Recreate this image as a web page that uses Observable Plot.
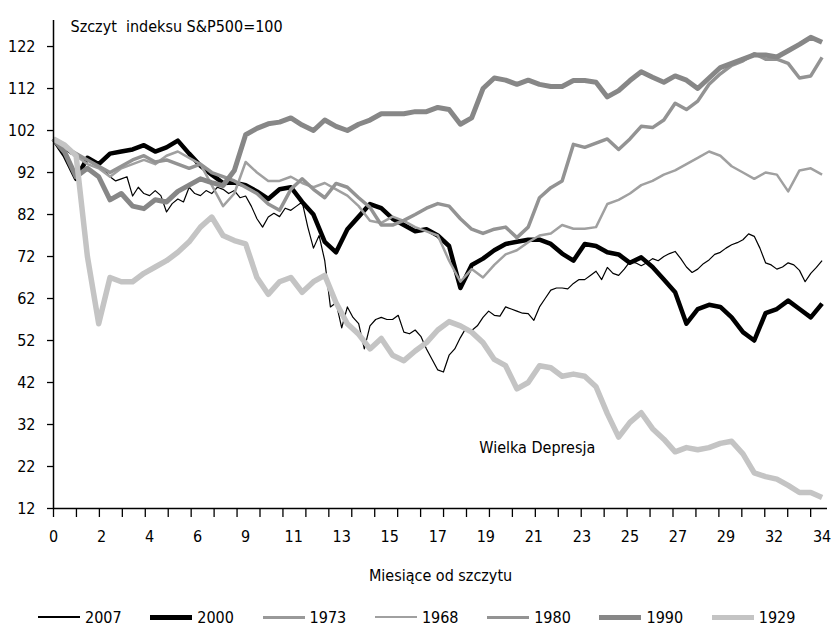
<!DOCTYPE html>
<html><head><meta charset="utf-8">
<script src="https://cdn.jsdelivr.net/npm/d3@7"></script>
<script src="https://cdn.jsdelivr.net/npm/@observablehq/plot@0.6"></script>
<style>
body{margin:0;background:#fff;}
#wrap{width:834px;height:634px;position:relative;font-family:"Liberation Sans Narrow","Arial Narrow","DejaVu Sans Condensed",sans-serif;}
#legend{height:34px;display:flex;align-items:center;padding-left:38px;box-sizing:border-box;font-size:16px;color:#000;}
.item{display:flex;align-items:center;width:112.3px;flex:none;}
.sw{width:42px;margin-right:5px;}
</style></head>
<body><div id="wrap"><div id="chart"></div><div id="legend"></div></div>
<script>
const years = ["2007","2000","1973","1968","1980","1990","1929"];
// months between successive readings, per series
const monthStep = {"2007": 0.25, "2000": 0.5, "1973": 0.5, "1968": 0.5, "1980": 0.5, "1990": 0.5, "1929": 0.5};
const s2007 = [100,98.5,97.5,96.5,96,95.5,95,94,93.6,92.5,
 91,90,90.5,91,86.4,88.5,87,86.5,87.7,86.5,
 82.6,84.6,85.7,85,88.5,87,86.5,87.7,87,88.5,
 88,87,87.7,86,86.4,84,81,79,81.4,82.3,
 81.5,83.5,83,84,85,79,74,77,71,60,
 61,55,60,57.5,56,50,55.5,57,57.5,57,
 57,58,54,53.6,54.5,53,50,47.5,45,44.5,
 48.5,50,52.7,55,54.4,55.5,57.5,59,58,57.8,
 60,59.5,59,58.5,58.4,56.8,60,62,64,64.5,
 64.5,64.3,65.6,66.5,66.5,67.5,68.5,66.5,69.4,68,
 67.5,69,70.8,70.5,69.8,70.5,71.5,71,72,72.7,
 73.2,71.5,69.5,68.2,69,70.3,71.2,72.5,73,74,
 74.8,75.3,76,77.4,76.8,74,70.5,70,69,69.5,
 70.5,70,68.7,66,68,69.4,71];
const s2000 = [100,96,90.5,95.5,94,96.5,97,97.5,98.5,97,
 98,99.6,96.5,93.6,91.5,89.5,89.6,89,87.5,85.7,
 88,88.5,85,82,75.5,73,78.5,81.5,84.5,83.5,
 81,79.5,78,78.5,77,74.5,64.5,70,71.5,73.5,
 75,75.5,76,76,75,72.7,71,75,74.5,73,
 72.5,70.5,71.8,69.5,66.5,63.5,56,59.5,60.5,60,
 57.5,54,52,58.5,59.5,61.5,59.5,57.5,60.8];
const s1973 = [];
const s1968 = [100,98,96,94,93,91,93,94,95,94,
 96,97,95.5,94,89,84,87,94.5,92,90,
 90,91,89.5,88.5,89.5,88,86.5,84,80.5,80,
 81.5,80.5,79,78,77,71,66,69,67,70,
 72.5,73.5,75.4,77,77.5,79.5,78.6,78.6,79,84.5,
 85.5,87,89,90,91.5,92.5,94,95.5,97,96,
 93.5,92,90.5,92,91.5,87.5,92.5,93,91.5];
const s1980 = [100,98,96.5,95,93.5,92,93.5,95,96,94.5,
 95,94,93,94,92,91,90,88.5,87,84.5,
 83,88,90.5,88,86,89.4,88.5,86,83.7,79.5,
 79.5,80.6,82,83.5,84.6,84,81,78.5,77.5,78.5,
 79,76.5,79,86,88.4,90,98.7,98,99,100,
 97.5,100,103,102.7,104.5,108.5,107,109,113,115.5,
 117.5,118.6,120.3,119,119,118,114.5,115,119.4];
const s1990 = [100,96.8,91,93,91,85.5,87,84,83.4,85.5,
 85,87.5,89,90.5,89.6,88.9,92.5,101,102.5,103.6,
 104,105,103.3,102,104.5,103,102,103.5,104.5,106,
 106,106,106.5,106.5,107.5,107,103.5,105,112,114.5,
 114,113,114,113,112.5,112.5,113.9,113.9,113.5,110,
 111.5,113.9,116,114.7,113.5,115,114,112,114.5,117,
 118,119,120,120,119.5,121,122.5,124.2,123];
const s1929 = [100,98.5,96,72,56,67,66,66,68,69.5,
 71,73,75.5,79,81.4,77,75.8,75,67,63,
 66,67,63.5,66,67.5,61,56,53.5,50,52.5,
 48.5,47.2,49.5,51.5,54.5,56.5,55.5,54,51.5,47.5,
 46,40.5,42,46,45.5,43.5,44,43.5,41,34.6,
 29,32.5,34.8,31,28.5,25.5,26.5,26,26.5,27.5,
 28,25,20.5,19.6,19,17.5,15.8,15.8,14.6];
const seriesValues = [s2007,s2000,s1973,s1968,s1980,s1990,s1929];
const xTickLabels = ["0","2","4","6","9","11","13","15","17","19","21","23","25","27","29","32","34"];
const yTicks = [12,22,32,42,52,62,72,82,92,102,112,122];
const titleText = "Szczyt\u00a0 indeksu S&P500=100";
const xTitle = "Miesiące od szczytu";
const noteText = "Wielka Depresja";
const noteAt = {month: 21.4, value: 26.5};

// styles (separate from data)
const lineStyle = {
  "2007": {stroke:"#000000", w:1.2, lw:1.5},
  "2000": {stroke:"#000000", w:4.5, lw:5},
  "1973": {stroke:"#999999", w:3, lw:3},
  "1968": {stroke:"#a0a0a0", w:2.5, lw:1.5},
  "1980": {stroke:"#939393", w:3.5, lw:3},
  "1990": {stroke:"#878787", w:5, lw:5},
  "1929": {stroke:"#c4c4c4", w:5.5, lw:5}
};
const FONT = '"Liberation Sans Narrow","Arial Narrow","DejaVu Sans Condensed",sans-serif';
const FS = 16;
const xMax = 34.24, yMin = 12, yMax = 128.2;
const totalMonths = 34;
const tickMonths = d3.range(34).map(k => k * 1.015);
const labelRows = xTickLabels.map((l, i) => ({pos: i * totalMonths / (xTickLabels.length - 1), label: l}));

const rows = years.flatMap((y, k) => seriesValues[k].map((v, i) => ({year: y, month: i * monthStep[y], value: v})));

const lineMarks = years.map(y => Plot.lineY(rows.filter(r => r.year === y), {
  x: "month", y: "value", stroke: lineStyle[y].stroke, strokeWidth: lineStyle[y].w,
  strokeLinejoin: "round", strokeLinecap: "butt"
}));

const chart = Plot.plot({
  width: 834, height: 600,
  marginLeft: 53, marginRight: 7, marginTop: 20, marginBottom: 92,
  x: {domain: [0, xMax]},
  y: {domain: [yMin, yMax]},
  style: {fontFamily: FONT, fontSize: FS + "px", color: "#000", background: "#fff", overflow: "visible"},
  marks: [
    ...lineMarks,
    Plot.ruleX([0], {stroke: "#000", strokeWidth: 1.5}),
    Plot.ruleY([yMin], {stroke: "#000", strokeWidth: 1.5}),
    Plot.axisY({ticks: yTicks, tickSize: 6, tickPadding: 12, label: null, fontSize: FS, strokeWidth: 1.3}),
    Plot.axisX({ticks: tickMonths, tickSize: 9, tickFormat: () => "", label: null, strokeWidth: 1.3}),
    Plot.text(labelRows, {x: "pos", text: "label", frameAnchor: "bottom", dy: 33, fontSize: FS}),
    Plot.text([xTitle], {frameAnchor: "bottom", dy: 72, fontSize: FS}),
    Plot.text([titleText], {frameAnchor: "top-left", dx: 17, dy: 0, textAnchor: "start", fontSize: FS}),
    Plot.text([noteText], {x: () => noteAt.month, y: () => noteAt.value, fontSize: FS})
  ]
});
document.getElementById("chart").appendChild(chart);

const legend = document.getElementById("legend");
years.forEach(y => {
  const it = document.createElement("div"); it.className = "item";
  const sw = document.createElement("div"); sw.className = "sw";
  sw.style.height = lineStyle[y].lw + "px"; sw.style.background = lineStyle[y].stroke;
  const tx = document.createElement("span"); tx.textContent = y;
  it.appendChild(sw); it.appendChild(tx); legend.appendChild(it);
});
</script>
</body></html>
